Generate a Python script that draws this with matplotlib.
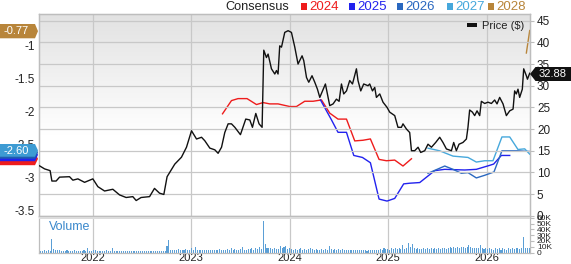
import matplotlib
matplotlib.use('Agg')
import matplotlib.pyplot as plt
import numpy as np
from matplotlib.patches import Polygon, Rectangle
from matplotlib.colors import LinearSegmentedColormap

plt.rcParams['font.family'] = ['Liberation Sans', 'DejaVu Sans']

# ---------------- data ----------------
price_t = [2021.459, 2021.510, 2021.566, 2021.584, 2021.627, 2021.662, 2021.763, 2021.797, 2021.848, 2021.916,
           2022.000, 2022.051, 2022.119, 2022.203, 2022.271, 2022.338, 2022.406, 2022.440, 2022.490, 2022.576,
           2022.626, 2022.677, 2022.721, 2022.754, 2022.832, 2022.900, 2022.951, 2023.002, 2023.053, 2023.104,
           2023.137, 2023.188, 2023.239, 2023.272, 2023.307, 2023.340, 2023.374, 2023.408, 2023.442, 2023.499,
           2023.553, 2023.594, 2023.621, 2023.655, 2023.688, 2023.719, 2023.736, 2023.763, 2023.780, 2023.814,
           2023.848, 2023.865, 2023.881, 2023.898, 2023.916, 2023.949, 2023.983, 2024.017, 2024.051, 2024.084,
           2024.125, 2024.142, 2024.170, 2024.193, 2024.226, 2024.254, 2024.281, 2024.305, 2024.362, 2024.406,
           2024.440, 2024.474, 2024.501, 2024.525, 2024.548, 2024.576, 2024.609, 2024.637, 2024.677, 2024.693,
           2024.721, 2024.751, 2024.795, 2024.812, 2024.840, 2024.863, 2024.880, 2024.914, 2024.947, 2024.988,
           2025.015, 2025.066, 2025.099, 2025.134, 2025.150, 2025.185, 2025.218, 2025.236, 2025.269, 2025.303,
           2025.330, 2025.371, 2025.404, 2025.439, 2025.482, 2025.523, 2025.556, 2025.591, 2025.642, 2025.665,
           2025.692, 2025.719, 2025.759, 2025.794, 2025.810, 2025.827, 2025.855, 2025.878, 2025.902, 2025.929,
           2025.946, 2025.980, 2026.013, 2026.048, 2026.081, 2026.105, 2026.132, 2026.166, 2026.200, 2026.234,
           2026.268, 2026.284, 2026.301, 2026.318, 2026.335, 2026.362, 2026.376, 2026.403, 2026.414, 2026.437]
price_v = [11.5, 10.8, 10.4, 8.0, 8.0, 8.9, 9.0, 8.2, 8.5, 7.7,
           8.5, 6.7, 5.7, 6.1, 4.8, 4.2, 4.4, 3.5, 4.2, 4.4,
           6.3, 5.2, 4.9, 9.0, 11.9, 13.5, 15.8, 19.6, 17.7, 18.1,
           17.3, 15.6, 15.2, 14.4, 15.8, 19.2, 21.2, 21.2, 20.4, 18.7,
           22.3, 22.1, 20.4, 23.6, 21.2, 20.4, 38.2, 36.5, 37.3, 33.9,
           32.7, 33.5, 32.7, 39.2, 38.9, 42.3, 42.7, 42.3, 38.9, 35.0,
           36.9, 35.8, 31.9, 30.8, 32.3, 30.8, 29.2, 27.3, 30.4, 25.4,
           25.8, 26.9, 26.4, 30.4, 28.1, 28.8, 31.2, 30.4, 33.9, 31.2,
           28.8, 30.4, 30.0, 30.4, 28.8, 29.6, 27.3, 28.1, 26.2, 25.0,
           23.9, 23.1, 20.4, 20.4, 21.2, 20.0, 19.2, 15.0, 15.0, 15.8,
           14.6, 15.0, 16.5, 15.8, 16.9, 18.1, 16.9, 15.4, 15.0, 16.9,
           15.0, 16.5, 16.9, 17.7, 20.4, 24.4, 23.9, 23.1, 24.2, 23.1,
           26.4, 25.9, 26.2, 25.9, 26.7, 25.8, 27.3, 25.8, 23.1, 24.2,
           24.6, 28.8, 28.1, 29.2, 27.3, 29.2, 33.9, 32.3, 31.5, 32.88]

eps2024_t = [2023.317, 2023.408, 2023.475, 2023.566, 2023.662, 2023.729, 2023.797, 2023.881, 2024.000, 2024.068,
             2024.152, 2024.237, 2024.322, 2024.406, 2024.490, 2024.576, 2024.660, 2024.744, 2024.819, 2024.907,
             2024.982, 2025.066, 2025.150, 2025.236]
eps2024_v = [-2.03, -1.83, -1.80, -1.80, -1.89, -1.86, -1.88, -1.88, -1.92, -1.92,
             -1.84, -1.84, -1.82, -2.02, -2.11, -2.11, -2.44, -2.43, -2.41, -2.72,
             -2.74, -2.73, -2.82, -2.71]

eps2025_t = [2024.312, 2024.423, 2024.490, 2024.576, 2024.650, 2024.738, 2024.819, 2024.907, 2024.988, 2025.066,
             2025.157, 2025.218, 2025.320, 2025.472, 2025.574, 2025.777, 2025.895, 2026.030, 2026.071, 2026.149,
             2026.234]
eps2025_v = [-1.82, -2.12, -2.31, -2.31, -2.66, -2.69, -2.77, -3.32, -3.35, -3.31,
             -3.09, -3.08, -3.07, -2.89, -2.87, -2.88, -2.87, -2.81, -2.79, -2.66,
             -2.66]

eps2026_t = [2025.404, 2025.574, 2025.658, 2025.743, 2025.810, 2025.895, 2025.980, 2026.074, 2026.155, 2026.318, 2026.437]
eps2026_v = [-2.93, -2.82, -2.87, -2.93, -2.92, -3.00, -2.96, -2.91, -2.59, -2.59, -2.60]

eps2027_t = [2025.404, 2025.523, 2025.658, 2025.810, 2025.895, 2025.980, 2026.064, 2026.155, 2026.234, 2026.318, 2026.386, 2026.437]
eps2027_v = [-2.55, -2.59, -2.67, -2.69, -2.76, -2.74, -2.74, -2.38, -2.38, -2.57, -2.56, -2.64]

eps2028_t = [2026.403, 2026.437]
eps2028_v = [-1.11, -0.77]

vol_start = 2021.45
volume_k = [4, 3, 3, 4, 3, 4, 3, 24, 6, 4,
            5, 4, 3, 3, 3, 4, 3, 3, 3, 4,
            3, 3, 3, 3, 4, 3, 7, 3, 3, 4,
            4, 3, 3, 3, 2, 3, 4, 3, 3, 7,
            3, 3, 2, 2, 3, 2, 2, 2, 2, 2,
            2, 2, 2, 3, 2, 2, 2, 2, 2, 2,
            2, 2, 3, 2, 2, 3, 3, 3, 11, 21,
            5, 5, 4, 5, 6, 4, 5, 4, 6, 5,
            4, 7, 5, 9, 5, 4, 4, 5, 4, 5,
            4, 5, 5, 4, 4, 5, 6, 5, 4, 5,
            6, 5, 7, 5, 6, 4, 5, 6, 9, 5,
            5, 6, 6, 7, 5, 7, 6, 9, 6, 55,
            14, 8, 7, 7, 6, 7, 6, 6, 12, 7,
            10, 12, 6, 7, 6, 5, 6, 5, 6, 7,
            5, 6, 5, 6, 7, 6, 5, 6, 5, 5,
            6, 5, 6, 5, 11, 6, 5, 6, 5, 6,
            5, 6, 5, 5, 4, 5, 4, 4, 5, 4,
            4, 5, 4, 4, 3, 4, 5, 4, 4, 5,
            4, 6, 5, 7, 6, 6, 5, 7, 6, 7,
            6, 7, 6, 13, 6, 7, 17, 9, 15, 8,
            6, 7, 6, 6, 7, 6, 8, 6, 7, 6,
            7, 6, 8, 6, 7, 8, 6, 7, 9, 8,
            9, 8, 9, 8, 9, 10, 8, 9, 13, 9,
            8, 7, 8, 7, 13, 8, 6, 7, 6, 8,
            6, 5, 7, 6, 8, 5, 7, 6, 5, 7,
            6, 7, 6, 8, 7, 6, 7, 27, 8, 7,
            8]

year_ticks = [2022, 2023, 2024, 2025, 2026]
year_labels = ['2022', '2023', '2024', '2025', '2026']
eps_ticks = [-1, -1.5, -2, -2.5, -3, -3.5]
eps_labels = ['-1', '-1.5', '-2', '-2.5', '-3', '-3.5']
price_ticks = [0, 5, 10, 15, 20, 25, 30, 35, 40, 45]
vol_ticks = [0, 10, 20, 30, 40, 50, 60]
vol_labels = ['0', '10K', '20K', '30K', '40K', '50K', '60K']
series_names = ['2024', '2025', '2026', '2027', '2028']
series_colors = ['#ee1c1c', '#2222ee', '#2a68c0', '#46a8dc', '#b8853a']

# ---------------- layout ----------------
W, H = 571, 264
fig = plt.figure(figsize=(W / 100, H / 100), dpi=100)
fig.patch.set_facecolor('white')

def fx(px):
    return px / W

def fy(py):
    return 1 - py / H

L, R, T, B = 38.7, 530, 14, 216
ax = fig.add_axes([fx(L), fy(B), fx(R) - fx(L), fy(T) - fy(B)])
ax2 = ax.twinx()
VT, VB = 216.5, 252.5
axv = fig.add_axes([fx(L), fy(VB), fx(R) - fx(L), fy(VT) - fy(VB)])

xlim = (2021.45, 2026.44)
grid_c = '#c8c8c8'
spine_c = '#bdbdbd'

# gradient background (grey at top fading to white)
grad = np.linspace(0, 1, 256).reshape(-1, 1)
cm = LinearSegmentedColormap.from_list('bg', [(0, '#e2e2e2'), (0.6, '#ffffff'), (1, '#ffffff')])
ax.imshow(grad, aspect='auto', cmap=cm, origin='upper', extent=[0, 1, 0, 1],
          transform=ax.transAxes, zorder=0)
ax.set_facecolor('white')

# main axes
ax.set_xlim(*xlim)
ax.set_ylim(-3.576, -0.52)
ax2.set_ylim(-0.07, 46.55)
ax.set_xticks(year_ticks)
ax.tick_params(axis='x', length=0, labelbottom=False)
ax.grid(axis='x', color=grid_c, lw=0.9, zorder=1)
ax.set_yticks(eps_ticks)
ax.set_yticklabels(eps_labels)
ax.tick_params(axis='y', length=0, labelsize=8.5, labelcolor='#222222', pad=3)
ax2.set_yticks(price_ticks)
ax2.tick_params(axis='y', length=3, color=spine_c, labelsize=8.5, labelcolor='#222222', pad=2)
ax2.yaxis.grid(True, color=grid_c, lw=0.9)
ax2.set_axisbelow(True)
for a in (ax, ax2):
    for s in a.spines.values():
        s.set_color(spine_c)
        s.set_linewidth(0.9)

# EPS lines
for tt, vv, c in [(eps2024_t, eps2024_v, series_colors[0]),
                  (eps2025_t, eps2025_v, series_colors[1]),
                  (eps2026_t, eps2026_v, series_colors[2]),
                  (eps2027_t, eps2027_v, series_colors[3]),
                  (eps2028_t, eps2028_v, series_colors[4])]:
    ax.plot(tt, vv, color=c, lw=1.0, zorder=3)

# price
ax2.plot(price_t, price_v, color='#111111', lw=1.0, zorder=4)

# volume
vt = vol_start + np.arange(len(volume_k)) / 52.18
axv.bar(vt, volume_k, width=0.55 / 52.18, color='#5b9fd6', align='center', zorder=2)
axv.set_xlim(*xlim)
axv.set_ylim(0, 62.5)
axv.set_xticks(year_ticks)
axv.set_xticklabels(year_labels)
axv.tick_params(axis='x', length=0, labelsize=8, labelcolor='#222222', pad=0.5)
axv.grid(axis='x', color=grid_c, lw=0.9, zorder=1)
axv.yaxis.tick_right()
axv.set_yticks(vol_ticks)
axv.set_yticklabels(vol_labels)
axv.tick_params(axis='y', length=3, color=spine_c, labelsize=6, labelcolor='#222222', pad=2)
for s in axv.spines.values():
    s.set_color(spine_c)
    s.set_linewidth(0.9)
axv.add_patch(Rectangle((0, 0.92), 1, 0.08, transform=axv.transAxes, color='#dcdcdc', zorder=3, lw=0))
axv.text(0.02, 0.70, 'Volume', transform=axv.transAxes, color='#3a88cc', fontsize=9, va='center', ha='left')

# ---------------- legend / header ----------------
fig.text(fx(289.5), fy(6.5), 'Consensus', ha='right', va='center', fontsize=9.2, color='#222222')
leg_x = [300.7, 349.3, 397.0, 446.7, 488.0]
for x0, name, c in zip(leg_x, series_names, series_colors):
    fig.patches.append(Rectangle((fx(x0), fy(10)), fx(6), fy(3) - fy(10), transform=fig.transFigure,
                                 color=c, lw=0))
    fig.text(fx(x0 + 8.5), fy(6.5), name, ha='left', va='center', fontsize=9.5, color=c)

fig.patches.append(Rectangle((fx(466.7), fy(27.3)), fx(10.6), fy(23.3) - fy(27.3), transform=fig.transFigure,
                             color='#111111', lw=0))
fig.text(fx(482.5), fy(26.0), 'Price ($)', ha='left', va='center', fontsize=8, color='#222222')

# ---------------- badges ----------------
def badge_left(y0, y1, color, dy=0.0):
    ym = (y0 + y1) / 2
    pts = [(0, y0 + dy), (35, y0 + dy), (38, ym + dy), (35, y1 + dy), (0, y1 + dy)]
    fig.patches.append(Polygon([(fx(a), fy(b)) for a, b in pts], closed=True, transform=fig.transFigure,
                               facecolor=color, edgecolor='none'))

badge_left(24, 38.3, series_colors[4])
fig.text(fx(16), fy(31.3), '-0.77', ha='center', va='center', fontsize=8, color='white')

badge_left(144, 156.7, series_colors[0], dy=8.5)
badge_left(144, 156.7, series_colors[1], dy=4.5)
badge_left(144, 156.7, '#1f5cb0', dy=2.0)
badge_left(144, 156.7, '#3d9bd3')
fig.text(fx(16), fy(150.5), '-2.60', ha='center', va='center', fontsize=8, color='white')

pts = [(530, 74), (535.5, 67), (571, 67), (571, 81), (535.5, 81)]
fig.patches.append(Polygon([(fx(a), fy(b)) for a, b in pts], closed=True, transform=fig.transFigure,
                           facecolor='#111111', edgecolor='none'))
fig.text(fx(553), fy(74.2), '32.88', ha='center', va='center', fontsize=8, color='white')

fig.savefig('out.png', dpi=100)
